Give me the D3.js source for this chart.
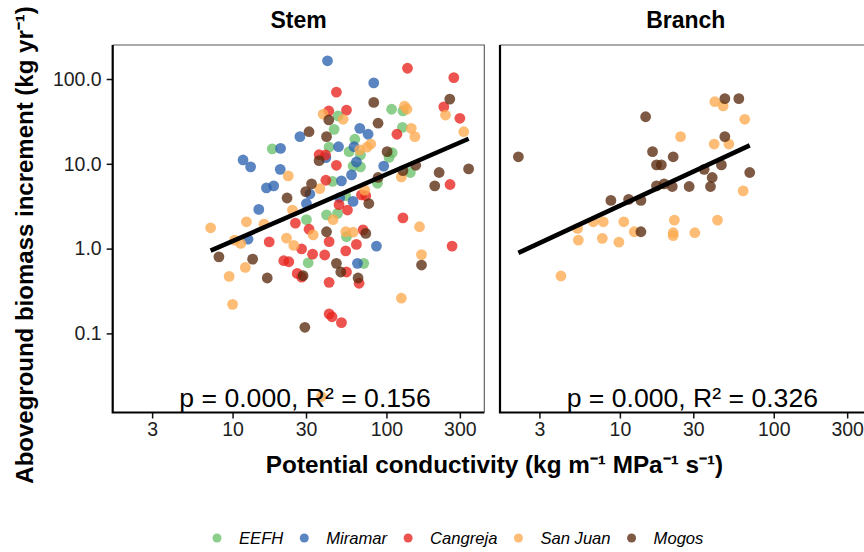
<!DOCTYPE html>
<html><head><meta charset="utf-8">
<script src="https://cdn.jsdelivr.net/npm/d3@7"></script>
<style>body{margin:0;background:#fff} text{font-family:"Liberation Sans",Arial,Helvetica,sans-serif}</style>
</head><body><svg id="c" width="864" height="552"></svg>
<script>
// ---------------- data ----------------
const sites = ["EEFH","Miramar","Cangreja","San Juan","Mogos"];
const siteColors = ["#6CC06C","#2D63B0","#E8241E","#FDAA50","#5A2B10"];
const panels = ["Stem","Branch"];
const xTicks = [3,10,30,100,300];
const xTickLabels = ["3","10","30","100","300"];
const yTicks = [0.1,1,10,100];
const yTickLabels = ["0.1","1.0","10.0","100.0"];

const stemEEFH = [[18.1,15.0],[30.2,2.2],[48.5,36.6],[108,44],[128,42],[127,26.9],[45.7,25.5],[62.3,19.5],[42.4,15.7],[57.2,13.9],[67.8,12.7],[109,13.5],[104,11.9],[60.7,9.4],[67.8,9.2],[143,7.9],[44.6,6.2],[87.4,5.9],[54.4,4.2],[40.8,2.5],[48.1,2.6],[55,1.38],[31.0,0.68],[71.2,0.67]];
const stemMiramar = [[27.4,20.9],[20.5,15.2],[11.7,11.1],[13.1,9.2],[20.4,8.6],[16.6,5.2],[18.5,5.5],[30.2,3.4],[14.8,2.9],[12.6,1.29],[41.4,164],[82.7,90],[67.1,26.2],[76.0,22.3],[48.8,15.9],[61.6,15.9],[40.4,11.8],[63.8,10.5],[96,9.4],[59.3,7.4],[51.0,6.3],[31.8,4.4],[49.7,4.0],[60.7,3.6],[86.1,1.07],[64.8,0.67]];
const stemCangreja = [[25.6,2.0],[17.3,1.20],[28.1,0.99],[21.5,0.72],[23.2,0.70],[26.3,0.51],[28.1,0.46],[137,134],[274,104],[47.3,70],[42.2,42],[55,43],[236,47],[300,34.4],[117,22.3],[36.5,12.8],[40.2,12.7],[47.3,9.6],[259,5.7],[40.4,6.4],[68.8,4.3],[73.4,4.2],[49.2,3.3],[55.8,2.85],[128,2.3],[267,1.07],[42.4,0.17],[44.3,0.157],[51.0,0.134],[31.4,1.69],[42.4,1.21],[70.5,1.66],[63.8,1.12],[54.4,0.94],[33.1,0.86],[39.7,0.84],[55,0.53],[66.4,0.39],[42.4,0.40]];
const stemSanJuan = [[23.0,7.2],[24.5,2.85],[7.2,1.76],[12.3,2.07],[16.0,1.94],[10.3,1.26],[11.3,1.15],[22.4,1.33],[25.0,1.09],[12.1,0.60],[9.5,0.47],[10.0,0.22],[38.8,38.6],[52.3,33.5],[131,48],[136,44],[242,37.6],[318,23.9],[145,26.2],[153,20.9],[67.1,14.6],[74.8,15.7],[79.1,17.1],[125,7.0],[36.9,5.1],[72.3,4.9],[45,2.2],[164,1.81],[169,0.85],[125,0.26],[33.4,1.45],[54.4,1.58],[60.7,1.56],[37.8,0.018]];
const stemMogos = [[31.4,23.9],[22.6,3.95],[29.9,4.7],[8.15,0.80],[13.5,0.75],[16.8,0.45],[28.7,0.48],[29.5,0.118],[82.7,53],[42.2,32.9],[258,58],[88.2,30.1],[40.8,20.9],[101,13.9],[36.5,10.9],[155,9.6],[128,8.3],[220,7.9],[342,8.7],[206,5.5],[88.2,6.9],[32.6,5.8],[76.8,3.4],[169,0.64],[40.8,1.58],[73.4,1.51],[47.3,0.67],[50.5,0.53],[65.4,0.45]];

const branchSanJuan = [[41.4,54.0],[46.9,48.1],[64.8,33.5],[24.8,20.9],[41.0,17.1],[51.1,17.1],[63.3,4.8],[43.1,2.17],[22.6,2.17],[22.2,1.54],[22.2,1.42],[30.7,1.54],[10.6,2.07],[12.4,1.58],[7.80,2.07],[6.72,2.07],[5.31,1.73],[5.37,1.26],[7.69,1.32],[9.85,1.19],[4.14,0.475]];
const branchMogos = [[2.19,12.1],[14.7,35.9],[48.1,58.6],[59.3,58.6],[48.1,20.9],[16.3,13.9],[22.2,12.1],[17.3,9.7],[18.6,9.7],[45.7,9.7],[35.3,8.6],[39.8,6.9],[69.8,7.9],[17.3,5.5],[19.4,5.8],[21.9,5.4],[28.2,5.4],[38.8,5.4],[8.74,3.7],[11.4,3.8],[13.7,3.7],[13.7,1.58]];

// log10(y) = a + b*log10(x)
const fitStem = [-0.699, 0.787];
const fitBranch = [-0.338, 0.843];
const statLabels = ["p = 0.000, R\u00B2 = 0.156", "p = 0.000, R\u00B2 = 0.326"];

const yTitle = "Aboveground biomass increment (kg yr\u207B\u00B9)";
const xTitle = "Potential conductivity (kg m\u207B\u00B9 MPa\u207B\u00B9 s\u207B\u00B9)";

// ---------------- layout ----------------
const svg = d3.select("#c");
const panelTop = 45, panelBottom = 412.5, panelW = 371.6;
const panelLefts = [112.7, 500];
const xDomain = [1.663, 432.5];
const yDomain = [0.01167, 251.8];

const y = d3.scaleLog().domain(yDomain).range([panelBottom, panelTop]);
const xs = panelLefts.map(l => d3.scaleLog().domain(xDomain).range([l, l + panelW]));

const panelData = [
  [["EEFH",stemEEFH],["Miramar",stemMiramar],["Cangreja",stemCangreja],["San Juan",stemSanJuan],["Mogos",stemMogos]],
  [["San Juan",branchSanJuan],["Mogos",branchMogos]]
];
const fits = [fitStem, fitBranch];
const color = d3.scaleOrdinal().domain(sites).range(siteColors);

panels.forEach((name, i) => {
  const x = xs[i];
  const g = svg.append("g");
  const L = panelLefts[i], R = L + panelW;

  // frame top/right
  g.append("path").attr("d", `M${L},${panelTop}H${R}V${panelBottom}`)
    .attr("fill","none").attr("stroke","#555").attr("stroke-width",1.1);

  // points
  panelData[i].forEach(([site, pts]) => {
    g.append("g").selectAll("circle").data(pts).join("circle")
      .attr("cx", d => x(d[0])).attr("cy", d => y(d[1])).attr("r", 5.4)
      .attr("fill", color(site)).attr("fill-opacity", 0.78);
  });

  // fit line
  const all = panelData[i].flatMap(d => d[1]);
  const ext = d3.extent(all, d => d[0]);
  const [a, b] = fits[i];
  const fitPts = ext.map(v => [v, Math.pow(10, a + b * Math.log10(v))]);
  g.append("path").datum(fitPts)
    .attr("d", d3.line().x(d => x(d[0])).y(d => y(d[1])))
    .attr("stroke","#000").attr("stroke-width",4.6).attr("fill","none");

  // stat label
  g.append("text").attr("x", (L + R) / 2 + 6.5).attr("y", 406.5)
    .attr("text-anchor","middle").attr("font-size", 26.6).attr("fill","#000")
    .text(statLabels[i]);

  // strip title
  g.append("text").attr("x", (L + R) / 2).attr("y", 28)
    .attr("text-anchor","middle").attr("font-size", 23).attr("font-weight","bold")
    .text(name);

  // x axis
  const ax = g.append("g").attr("transform", `translate(0,${panelBottom})`)
    .call(d3.axisBottom(x).tickValues(xTicks).tickFormat((d, k) => xTickLabels[k]).tickSize(6).tickPadding(4));
  ax.select(".domain").remove();
  ax.selectAll(".tick line").attr("stroke","#111").attr("stroke-width",1.5);
  ax.selectAll(".tick text").attr("font-size",19.5).attr("fill","#1e1e1e")
    .attr("font-family",'"Liberation Sans",Arial,sans-serif');

  // y axis (stem only shows ticks)
  if (i === 0) {
    const ay = g.append("g").attr("transform", `translate(${L},0)`)
      .call(d3.axisLeft(y).tickValues(yTicks).tickFormat((d, k) => yTickLabels[k]).tickSize(6).tickPadding(5));
    ay.select(".domain").remove();
    ay.selectAll(".tick line").attr("stroke","#111").attr("stroke-width",1.5);
    ay.selectAll(".tick text").attr("font-size",19.5).attr("fill","#1e1e1e")
      .attr("font-family",'"Liberation Sans",Arial,sans-serif');
  }

  // axis lines left/bottom
  g.append("path").attr("d", `M${L},${panelTop}V${panelBottom}H${R}`)
    .attr("fill","none").attr("stroke","#000").attr("stroke-width",2.2);
});

// axis titles
svg.append("text").attr("transform","translate(33,245) rotate(-90)")
  .attr("text-anchor","middle").attr("font-size",24).attr("font-weight","bold").text(yTitle);
svg.append("text").attr("x",494.5).attr("y",473)
  .attr("text-anchor","middle").attr("font-size",24.3).attr("font-weight","bold").text(xTitle);

// legend
const leg = svg.append("g");
let cx = 217;
const legY = 538;
sites.forEach((s, k) => {
  leg.append("circle").attr("cx", cx).attr("cy", legY).attr("r", 4.5)
    .attr("fill", color(s)).attr("fill-opacity", 0.78);
  const t = leg.append("text").attr("x", cx + 22).attr("y", legY + 6)
    .attr("font-size", 16.6).attr("font-style","italic").text(s);
  const w = t.node().getComputedTextLength();
  cx = cx + 22 + w + 21;
});
</script></body></html>
